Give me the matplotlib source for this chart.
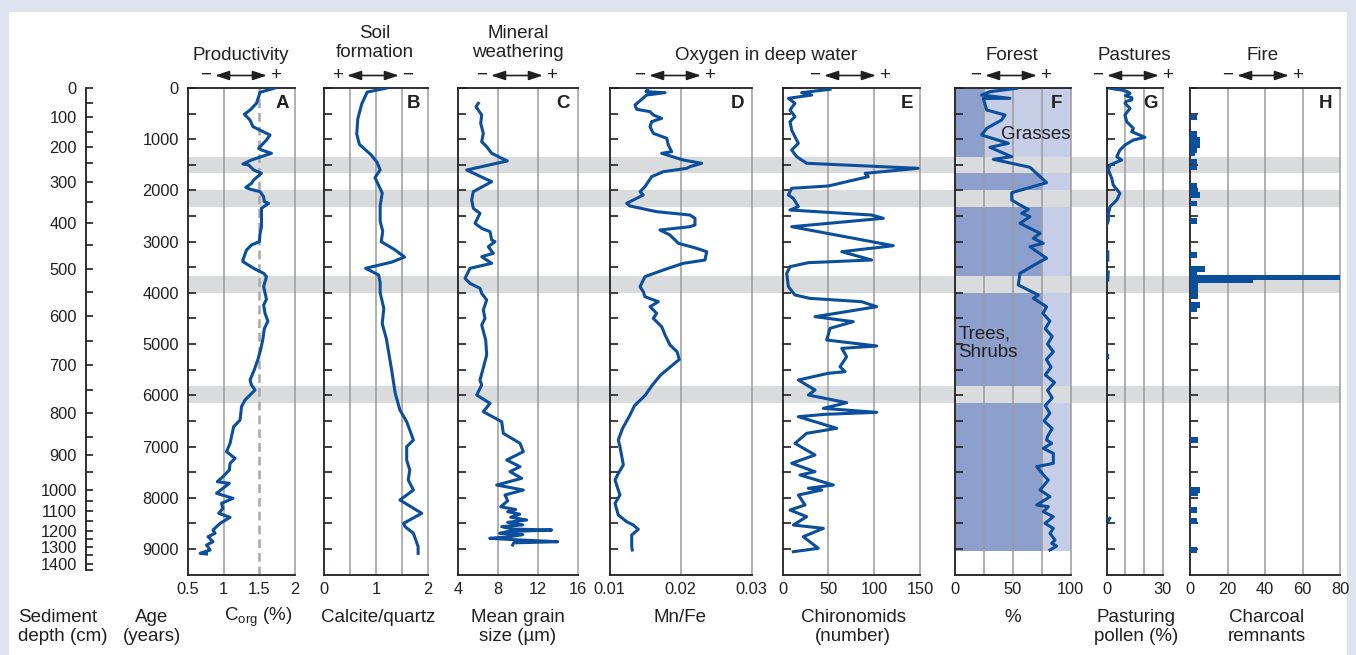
import numpy as np
import matplotlib
matplotlib.use('Agg')
import matplotlib.pyplot as plt
from matplotlib.patches import Rectangle

plt.rcParams['font.family'] = ['Liberation Sans', 'DejaVu Sans']
plt.rcParams['mathtext.fontset'] = 'custom'
plt.rcParams['mathtext.rm'] = 'Liberation Sans'
plt.rcParams['mathtext.it'] = 'Liberation Sans:italic'
plt.rcParams['axes.unicode_minus'] = False

# ---------------- data (ages in years BP) ----------------
# age-depth model: sediment depth (cm) -> age
depth_cm = list(range(0, 1451, 50))
depth_age = [0, 293, 566, 859, 1152, 1464, 1835, 2220, 2630, 3065, 3534, 3977, 4451, 4940,
             5408, 5896, 6339, 6808, 7165, 7497, 7849, 8063, 8258, 8454, 8643, 8805, 8955,
             9118, 9293, 9410]

# grey event bands
band_start = [1340, 1990, 3670, 5820]
band_end = [1655, 2320, 4000, 6150]

# A productivity, C_org (%)
a_age = [0, 85, 300, 430, 515, 625, 755, 918, 1015, 1178, 1210, 1275, 1405, 1484, 1503, 1600,
         1665, 1796, 1861, 1940, 1975, 2024, 2122, 2219, 2252, 2350, 2512, 2707, 2838, 3000,
         3065, 3163, 3358, 3390, 3520, 3618, 3683, 3879, 4125, 4237, 4400, 4550, 4700, 4900,
         5100, 5300, 5500, 5700, 5798, 5896, 6091, 6222, 6482, 6612, 6937, 7100, 7230, 7327,
         7458, 7588, 7686, 7718, 7913, 8011, 8108, 8206, 8304, 8382, 8499, 8630, 8694, 8760,
         8858, 8922, 9020, 9085, 9098]
a_val = [1.72, 1.51, 1.46, 1.37, 1.29, 1.37, 1.41, 1.65, 1.60, 1.49, 1.53, 1.67, 1.39, 1.27,
         1.35, 1.42, 1.53, 1.42, 1.39, 1.31, 1.37, 1.51, 1.56, 1.57, 1.63, 1.53, 1.53, 1.53,
         1.51, 1.50, 1.39, 1.32, 1.27, 1.27, 1.42, 1.56, 1.60, 1.56, 1.60, 1.56, 1.58, 1.62,
         1.57, 1.55, 1.52, 1.48, 1.43, 1.37, 1.39, 1.44, 1.30, 1.25, 1.23, 1.14, 1.09, 1.04,
         1.16, 1.09, 1.08, 0.99, 0.91, 1.08, 0.90, 1.13, 0.97, 0.99, 0.93, 1.09, 0.95, 0.85,
         0.88, 0.78, 0.85, 0.76, 0.81, 0.67, 0.76]

# B soil formation, calcite/quartz
b_age = [0, 80, 300, 600, 900, 1100, 1300, 1450, 1600, 1750, 1900, 2050, 2300, 2600, 2800,
         3000, 3150, 3300, 3400, 3520, 3650, 3800, 4000, 4300, 4600, 4900, 5200, 5500, 5701,
         5961, 6287, 6515, 6872, 7003, 7263, 7458, 7653, 7849, 8044, 8304, 8499, 8565, 8695,
         8955, 9085]
b_val = [1.21, 0.83, 0.73, 0.65, 0.63, 0.68, 0.90, 1.02, 1.08, 0.98, 1.05, 1.12, 1.08, 1.08,
         1.13, 1.10, 1.35, 1.55, 1.30, 0.80, 1.05, 1.08, 1.08, 1.15, 1.12, 1.20, 1.25, 1.30,
         1.33, 1.37, 1.46, 1.59, 1.72, 1.59, 1.59, 1.65, 1.62, 1.72, 1.46, 1.88, 1.53, 1.56,
         1.72, 1.81, 1.81]

# C mineral weathering, mean grain size (um)
c_age = [299, 365, 527, 689, 885, 1048, 1146, 1275, 1425, 1470, 1601, 1829, 2024, 2187, 2349,
         2447, 2642, 2740, 2805, 2968, 3000, 3098, 3228, 3293, 3423, 3520, 3716, 3814, 3911,
         4008, 4139, 4334, 4497, 4627, 4920, 5213, 5506, 5701, 5799, 5994, 6156, 6320, 6515,
         6742, 6937, 7100, 7263, 7393, 7491, 7620, 7751, 7849, 7946, 8060, 8175, 8230, 8272,
         8320, 8380, 8434, 8480, 8530, 8565, 8610, 8630, 8660, 8694, 8720, 8760, 8792, 8820,
         8858, 8880, 8922]
c_val = [6.06, 5.83, 6.4, 6.3, 6.56, 6.4, 6.9, 7.4, 8.96, 7.9, 4.9, 7.4, 5.56, 5.4, 5.56,
         6.23, 5.73, 6.4, 7.23, 7.4, 7.73, 7.06, 7.56, 6.4, 7.4, 5.23, 4.73, 5.23, 6.23, 6.4,
         6.9, 6.56, 6.73, 6.4, 6.8, 6.9, 6.5, 6.23, 6.4, 5.9, 7.23, 6.56, 8.4, 8.56, 10.23,
         10.56, 8.9, 10.23, 9.23, 10.4, 7.9, 10.56, 8.73, 9.0, 8.3, 9.8, 9.0, 10.2, 9.3, 10.9,
         9.0, 10.5, 8.4, 9.5, 13.4, 9.0, 8.2, 10.5, 9.2, 7.2, 9.8, 14.0, 9.6, 9.5]

# D oxygen, Mn/Fe
d_age = [0, 72, 91, 137, 332, 416, 462, 527, 592, 657, 755, 885, 982, 1113, 1243, 1275, 1406,
         1470, 1536, 1568, 1634, 1731, 1927, 2024, 2089, 2154, 2251, 2304, 2415, 2480, 2544,
         2675, 2708, 2772, 2870, 3032, 3130, 3196, 3358, 3423, 3553, 3683, 3879, 3977, 4075,
         4172, 4270, 4399, 4497, 4660, 4822, 5018, 5150, 5300, 5450, 5600, 5800, 6000, 6200,
         6400, 6650, 6872, 7003, 7360, 7523, 7653, 7849, 7946, 8109, 8337, 8467, 8532, 8617,
         8727, 8955, 9020]
d_val = [0.01546, 0.01511, 0.01779, 0.01521, 0.01356, 0.0138, 0.01568, 0.01614, 0.01732,
         0.01591, 0.01568, 0.01614, 0.01803, 0.01825, 0.01873, 0.01732, 0.02037, 0.02296,
         0.02131, 0.02085, 0.01755, 0.01591, 0.01497, 0.01427, 0.01473, 0.0138, 0.01239,
         0.01286, 0.01662, 0.02131, 0.02201, 0.02201, 0.02131, 0.01708, 0.01849, 0.01967,
         0.02225, 0.02366, 0.02342, 0.02037, 0.01755, 0.01497, 0.01427, 0.01473, 0.01497,
         0.01685, 0.01568, 0.01662, 0.01614, 0.01732, 0.0178, 0.0185, 0.0195, 0.0198, 0.0185,
         0.0172, 0.0160, 0.0150, 0.0135, 0.0128, 0.0118, 0.01121, 0.01145, 0.01192, 0.01121,
         0.01075, 0.01121, 0.01145, 0.01075, 0.01121, 0.01239, 0.01332, 0.01403, 0.0131,
         0.0131, 0.01318]

# E oxygen, chironomids (number)
e_age = [25, 91, 137, 202, 299, 430, 560, 657, 820, 950, 1080, 1210, 1341, 1470, 1568, 1666,
         1731, 1913, 1958, 2089, 2154, 2317, 2382, 2480, 2544, 2708, 3079, 3196, 3358, 3410,
         3488, 3618, 3879, 4041, 4107, 4172, 4270, 4465, 4562, 4692, 4920, 5037, 5083, 5246,
         5441, 5539, 5570, 5701, 5896, 5994, 6144, 6254, 6332, 6371, 6417, 6644, 6742, 6937,
         7165, 7327, 7491, 7556, 7751, 7815, 7849, 7946, 8141, 8239, 8369, 8532, 8597, 8760,
         8987, 9053]
e_val = [51.7, 20.7, 31.7, 6.2, 13.4, 8, 13.4, 8, 9.8, 13.4, 17.1, 9.8, 15.3, 26.2, 148, 89.9,
         93.5, 49.8, 9.8, 6.2, 11.6, 17.1, 8, 97.2, 109.9, 9.8, 120.8, 64.5, 97.2, 28, 8, 4.4,
         6.2, 13.4, 29.8, 86.3, 102.7, 35.3, 77.1, 51.7, 48.1, 102.7, 64.5, 69.9, 62.6, 68.1,
         49.8, 17.1, 35.3, 28, 69.9, 44.4, 102.7, 46.2, 17.1, 59, 26.2, 13.4, 35.3, 9.8, 35.3,
         18.9, 55.3, 28, 42.6, 17.1, 24.4, 8, 26.2, 11.6, 44.4, 22.5, 38.9, 11.6]

# F forest (%), with vegetation zones (trees/shrubs share)
f_age = [6, 72, 137, 202, 205, 430, 527, 625, 788, 918, 1080, 1158, 1341, 1392, 1548, 1731,
         1848, 2044, 2187, 2284, 2368, 2447, 2512, 2642, 2837, 2935, 3032, 3098, 3325, 3390,
         3618, 3846, 4041, 4107, 4270, 4400, 4550, 4700, 4850, 5000, 5150, 5300, 5450, 5600,
         5750, 5900, 6050, 6200, 6350, 6500, 6650, 6800, 6872, 6937, 7035, 7133, 7327, 7393,
         7588, 7653, 7849, 7979, 8141, 8175, 8272, 8369, 8499, 8597, 8694, 8825, 8890, 8942,
         9020]
f_val = [53.3, 30.2, 23, 47.5, 24.5, 27.4, 43.2, 40.3, 27.4, 23, 46.1, 30.2, 49, 33.1, 64.8,
         73.5, 79.2, 49, 49, 56.2, 63.4, 57.6, 64.8, 56.2, 73.5, 67.7, 76.3, 64.8, 79.2, 73.5,
         56.2, 54.7, 72, 67.7, 79.2, 76, 82, 78, 84, 80, 85, 79, 83, 78, 86, 80, 84, 78, 82,
         77, 84, 80, 79.2, 83.6, 76.3, 85, 85, 70.6, 77.8, 80.7, 73.5, 82.1, 70.6, 80.7, 76.3,
         85, 77.8, 85, 82.1, 86.4, 83.6, 87.9, 82.1]
f_zone_edges = [0, 1500, 9030]
f_zone_trees = [25, 75]

# G pastures, pasturing pollen (%)
nan = np.nan
g_age = [6, 39, 70, 104, 150, 190, 234, 260, 299, 397, 527, 657, 788, 853, 963, 1015, 1113,
         1210, 1341, 1406, 1503, 1601, 1763, 1894, 2056, 2187, 2317, 2447, 2577, 2630, nan,
         3200, 3360, nan, 3590, 3750, nan, 5220, 5270, nan, 8400, 8440]
g_val = [1.8, 8, 11, 12.5, 10, 13.5, 13.4, 10.5, 9.8, 12.5, 9.8, 10.7, 14.3, 13.4, 20.5, 14.3,
         9.8, 7.1, 5.4, 8, 1.8, 0.9, 2.7, 3.5, 7.1, 5.4, 1.8, 0.9, 0.9, 0.5, nan, 0.6, 0.6, nan,
         0.8, 0.6, nan, 0.5, 0.5, nan, 1.6, 1.0]

# H fire, charcoal remnants
h_age = [573, 898, 1015, 1113, 1210, 1276, 1438, 1549, 1913, 2004, 2089, 2252, 2597, 3260,
         3534, 3618, 3696, 3748, 3866, 3957, 4075, 4237, 4321, 6872, 7849, 7913, 8239, 8454,
         9020]
h_val = [3.6, 3.6, 5.3, 5.3, 3.6, 2.7, 3.6, 3.6, 3.6, 4.0, 5.3, 3.6, 3.6, 3.6, 8.0, 3.6, 80,
         33.8, 4.4, 4.4, 4.4, 5.3, 3.6, 4.4, 5.3, 4.4, 3.6, 3.6, 3.6]

# ---------------- layout / style ----------------
W, H = 1356, 655
TOP, BOT = 88, 574.6
AGE_MAX = 9500
BLUE = '#0b4f9c'
INK = '#231f20'
GRID = '#9b9b9b'
BAND = '#dadbdd'
FS_TICK = 11.8
FS_LAB = 13.5

fig = plt.figure(figsize=(W / 100, H / 100), dpi=100)
fig.patch.set_facecolor('#dde4ef')
fig.add_artist(Rectangle((9 / W, -0.01), 1338 / W, (H - 12) / H + 0.01,
                         transform=fig.transFigure, fc='white', ec='none', zorder=-10))


def add_ax(x0, x1):
    return fig.add_axes([x0 / W, 1 - BOT / H, (x1 - x0) / W, (BOT - TOP) / H])


# grey bands behind everything
bg = add_ax(188, 1340)
bg.set_ylim(AGE_MAX, 0)
bg.set_xlim(0, 1)
bg.axis('off')
for s, e in zip(band_start, band_end):
    bg.axhspan(s, e, color=BAND, lw=0)


def panel(x0, x1, xlim, ticks, labels, grid):
    ax = add_ax(x0, x1)
    ax.patch.set_alpha(0)
    ax.set_xlim(xlim)
    ax.set_ylim(AGE_MAX, 0)
    ax.set_xticks(ticks, labels)
    ax.tick_params(axis='x', length=0, pad=5, labelsize=FS_TICK, labelcolor=INK)
    ax.set_yticks(np.arange(0, 9001, 500))
    ax.tick_params(axis='y', which='both', direction='in', length=6, width=1.2, color=INK,
                   labelleft=False, labelsize=FS_TICK, labelcolor=INK, pad=6.5)
    for s in ['left', 'top', 'bottom']:
        ax.spines[s].set_color(INK)
        ax.spines[s].set_linewidth(1.3)
    ax.spines['right'].set_color(GRID)
    ax.spines['right'].set_linewidth(1.1)
    for g in grid:
        ax.axvline(g, color=GRID, lw=1.1, zorder=1.5)
    return ax


lw = 2.2
kw = dict(color=BLUE, lw=lw, zorder=3, solid_joinstyle='round')

axA = panel(188, 295, (0.5, 2), [0.5, 1, 1.5, 2], ['0.5', '1', '1.5', '2'], [1])
axA.axvline(1.5, color='#a8a8a8', lw=1.8, ls=(0, (3.5, 2)), zorder=1.5)
axA.plot(a_val, a_age, **kw)
axA.set_yticks(np.arange(0, 9001, 1000), [str(v) for v in range(0, 9001, 1000)])
axA.set_yticks(np.arange(500, 9001, 1000), minor=True)
axA.tick_params(axis='y', which='both', labelleft=True)

axB = panel(324, 428, (0, 2), [0, 1, 2], ['0', '1', '2'], [0.5, 1, 1.5])
axB.plot(b_val, b_age, **kw)

axC = panel(457.7, 577.7, (4, 16), [4, 8, 12, 16], ['4', '8', '12', '16'], [8, 12])
axC.plot(c_val, c_age, **kw)

axD = panel(609.7, 751.7, (0.01, 0.03), [0.01, 0.02, 0.03], ['0.01', '0.02', '0.03'], [0.02])
axD.plot(d_val, d_age, **kw)

axE = panel(782.7, 920, (0, 150), [0, 50, 100, 150], ['0', '50', '100', '150'], [50, 100])
axE.plot(e_val, e_age, **kw)

axF = panel(955, 1070.7, (0, 100), [0, 50, 100], ['0', '50', '100'], [25, 50, 75])
for i, tr in enumerate(f_zone_trees):
    ys = [f_zone_edges[i], f_zone_edges[i + 1]]
    axF.fill_betweenx(ys, 0, tr, color='#8d9fcc', lw=0, zorder=1)
    axF.fill_betweenx(ys, tr, 100, color='#c6cee7', lw=0, zorder=1)
for s, e in zip(band_start, band_end):
    axF.axhspan(s, e, color=BAND, lw=0, zorder=1.2)
axF.plot(f_val, f_age, **kw)
axF.text(0.03, 0.476, 'Trees,\nShrubs', transform=axF.transAxes, fontsize=FS_LAB, color=INK,
         va='center', ha='left', zorder=4, linespacing=1.1)
axF.text(0.40, 0.905, 'Grasses', transform=axF.transAxes, fontsize=FS_LAB, color=INK,
         va='center', ha='left', zorder=4)

axG = panel(1106.7, 1162.7, (0, 30), [0, 30], ['0', '30'], [10, 20])
axG.plot(g_val, g_age, **kw)

axH = panel(1190, 1340, (0, 80), [0, 20, 40, 60, 80], ['0', '20', '40', '60', '80'],
            [20, 40, 60])
axH.barh(h_age, h_val, height=105, left=0, color=BLUE, lw=0, zorder=3)

# sediment depth axis
dax = add_ax(86, 96)
dax.patch.set_alpha(0)
dax.set_ylim(AGE_MAX, 0)
dax.set_xlim(0, 1)
for s in ['top', 'right', 'bottom']:
    dax.spines[s].set_visible(False)
dax.spines['left'].set_color(INK)
dax.spines['left'].set_linewidth(1.3)
dax.spines['left'].set_bounds(0, depth_age[-1])
dax.set_xticks([])
dax.set_yticks(depth_age[::2], [str(d) for d in depth_cm[::2]])
dax.set_yticks(depth_age[1::2], minor=True)
dax.tick_params(axis='y', which='both', direction='in', length=5, width=1.2, color=INK,
                pad=6.5, labelsize=FS_TICK, labelcolor=INK)

# ---------------- overlay text ----------------
ov = fig.add_axes([0, 0, 1, 1])
ov.set_xlim(0, W)
ov.set_ylim(H, 0)
ov.axis('off')
ov.patch.set_alpha(0)

tops = [(241, 55, 'Productivity'), (375, 43, 'Soil\nformation'),
        (518, 43, 'Mineral\nweathering'), (766, 55, 'Oxygen in deep water'),
        (1012, 55, 'Forest'), (1134, 55, 'Pastures'), (1263, 55, 'Fire')]
for x, y, t in tops:
    ov.text(x, y, t, fontsize=FS_LAB, color=INK, ha='center', va='center', linespacing=1.15)

# direction arrows: (centre, left sign, right sign)
arrows = [(241, '\u2212', '+'), (373, '+', '\u2212'), (517, '\u2212', '+'),
          (675, '\u2212', '+'), (850, '\u2212', '+'), (1011, '\u2212', '+'),
          (1133, '\u2212', '+'), (1263, '\u2212', '+')]
for cx, ls_, rs in arrows:
    ov.annotate('', xy=(cx + 26, 75.5), xytext=(cx - 26, 75.5),
                arrowprops=dict(arrowstyle='<|-|>,head_length=0.85,head_width=0.28',
                                color=INK, lw=1.2, shrinkA=0, shrinkB=0, mutation_scale=10))
    ov.text(cx - 35, 75, ls_, fontsize=FS_LAB, color=INK, ha='center', va='center')
    ov.text(cx + 35, 75, rs, fontsize=FS_LAB, color=INK, ha='center', va='center')

letters = [(282, 'A'), (414, 'B'), (563, 'C'), (737, 'D'), (907, 'E'), (1056, 'F'),
           (1151, 'G'), (1326, 'H')]
for x, t in letters:
    ov.text(x, 103, t, fontsize=13.5, fontweight='bold', color=INK, ha='center', va='center',
            zorder=5)

bottoms = [(18, 627, 'Sediment\ndepth (cm)', 'left'), (152, 627, 'Age\n(years)', 'center'),
           (258, 617, r'C$_{\mathrm{org}}$ (%)', 'center'), (378, 617, 'Calcite/quartz', 'center'),
           (518, 627, 'Mean grain\nsize (\u00b5m)', 'center'), (680, 617, 'Mn/Fe', 'center'),
           (853, 627, 'Chironomids\n(number)', 'center'), (1013, 617, '%', 'center'),
           (1136, 627, 'Pasturing\npollen (%)', 'center'),
           (1267, 627, 'Charcoal\nremnants', 'center')]
for x, y, t, ha in bottoms:
    ov.text(x, y, t, fontsize=FS_LAB, color=INK, ha=ha, va='center', linespacing=1.15,
            multialignment='center' if ha == 'center' else 'left')

fig.savefig('out.png', dpi=100, facecolor=fig.get_facecolor())
